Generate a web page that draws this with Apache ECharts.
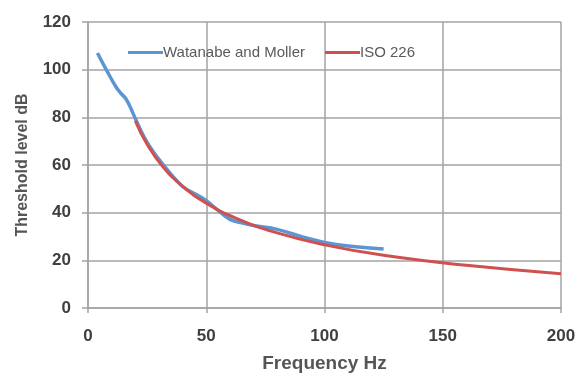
<!DOCTYPE html>
<html>
<head>
<meta charset="utf-8">
<script src="https://cdn.jsdelivr.net/npm/echarts@6/dist/echarts.min.js"></script>
<style>
  html, body { margin: 0; padding: 0; background: #ffffff; }
  #chart { width: 575px; height: 379px; }
</style>
</head>
<body>
<div id="chart"></div>
<script>
// Hearing threshold vs frequency: measured (Watanabe and Moller) and ISO 226
const seriesNames = ['Watanabe and Moller', 'ISO 226'];

// [frequency Hz, threshold dB]
const watanabeMoller = [
  [4, 107], [8, 99.5], [12, 92.5], [14, 90], [16, 87.8], [18, 84], [20, 79.5],
  [25, 69.5], [31.5, 60.5], [40, 51], [46, 47.5], [50, 45], [55, 41],
  [60, 37.2], [65, 35.7], [70, 34.6], [80, 33], [90, 30], [100, 27.5],
  [110, 26], [125, 24.8]
];

const iso226 = [
  [20, 78.5], [25, 68.7], [31.5, 59.5], [40, 51.1], [50, 44.0], [63, 37.5],
  [80, 31.5], [100, 26.5], [125, 22.1], [160, 17.9], [200, 14.4]
];

const xTicks = { min: 0, max: 200, interval: 50 };
const yTicks = { min: 0, max: 120, interval: 20 };

const gridColor = '#a3a3a3';
const labelColor = '#404040';
const fontFamily = 'Liberation Sans, Arial, sans-serif';

const chart = echarts.init(document.getElementById('chart'), null, { renderer: 'canvas' });

chart.setOption({
  backgroundColor: '#ffffff',
  animation: false,
  grid: { left: 88, right: 14, top: 22, bottom: 71, containLabel: false, outerBoundsMode: 'none' },
  legend: {
    left: 123,
    top: 40,
    itemWidth: 35,
    itemHeight: 3,
    itemGap: 20,
    icon: 'rect',
    textStyle: { fontFamily: fontFamily, fontSize: 15, color: '#5a5a5a', padding: [0, 0, 0, -5] },
    data: seriesNames
  },
  xAxis: {
    type: 'value',
    min: xTicks.min, max: xTicks.max, interval: xTicks.interval,
    name: 'Frequency Hz',
    nameLocation: 'middle',
    nameGap: 46,
    nameTextStyle: { fontFamily: fontFamily, fontSize: 19, fontWeight: 'bold', color: '#555555' },
    axisLine: { show: true, lineStyle: { color: gridColor, width: 1.5 } },
    axisTick: { show: true, length: 5, lineStyle: { color: gridColor, width: 1.5 } },
    axisLabel: { margin: 20, fontFamily: fontFamily, fontSize: 17, fontWeight: 'bold', color: labelColor },
    splitLine: { show: true, lineStyle: { color: gridColor, width: 1.5 } }
  },
  yAxis: {
    type: 'value',
    min: yTicks.min, max: yTicks.max, interval: yTicks.interval,
    name: 'Threshold level dB',
    nameLocation: 'middle',
    nameGap: 57,
    nameTextStyle: { fontFamily: fontFamily, fontSize: 16, fontWeight: 'bold', color: '#555555' },
    axisLine: { show: true, lineStyle: { color: gridColor, width: 1.5 } },
    axisTick: { show: true, length: 6, lineStyle: { color: gridColor, width: 1.5 } },
    axisLabel: { margin: 17, fontFamily: fontFamily, fontSize: 17, fontWeight: 'bold', color: labelColor },
    splitLine: { show: true, lineStyle: { color: gridColor, width: 1.5 } }
  },
  series: [
    {
      name: seriesNames[0],
      type: 'line',
      data: watanabeMoller,
      smooth: 0.4,
      showSymbol: false,
      symbol: 'none',
      itemStyle: { color: '#5b96d2' },
      lineStyle: { color: '#5b96d2', width: 3.5 },
      z: 2
    },
    {
      name: seriesNames[1],
      type: 'line',
      data: iso226,
      smooth: 0.5,
      showSymbol: false,
      symbol: 'none',
      itemStyle: { color: '#d0504f' },
      lineStyle: { color: '#d0504f', width: 3 },
      z: 3
    }
  ]
});
</script>
</body>
</html>
